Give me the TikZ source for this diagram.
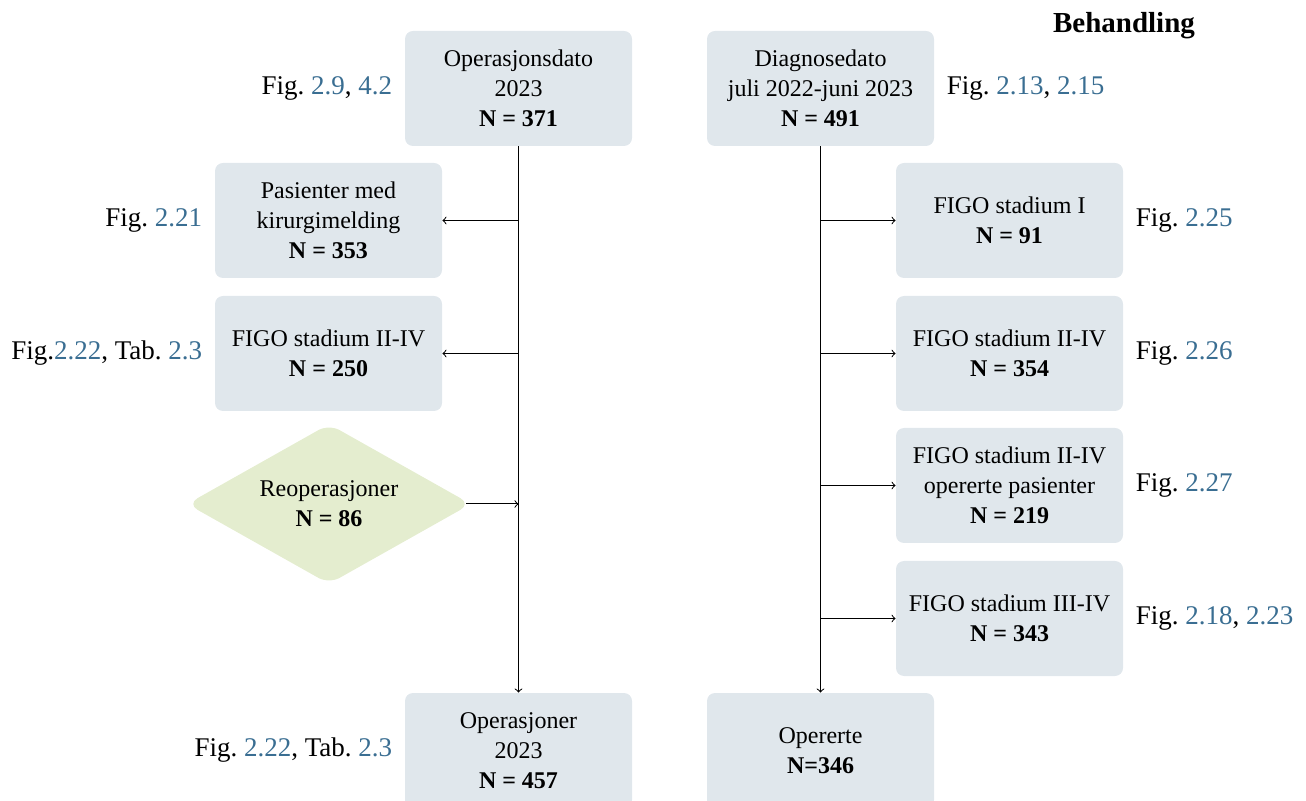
\documentclass[tikz,border=0pt]{standalone}
\usepackage{fontspec}
\setmainfont{Liberation Serif}
\usetikzlibrary{shapes.geometric,positioning}
\definecolor{boxc}{RGB}{224,231,236}
\definecolor{diac}{RGB}{228,237,207}
\definecolor{linkc}{RGB}{58,110,146}
\newcommand{\lnk}[1]{\textcolor{linkc}{#1}}
\frenchspacing
\begin{document}
\begin{tikzpicture}[x=0.5pt,y=-0.5pt,
  boxn/.style={rectangle, rounded corners=4pt, fill=boxc, minimum width=113.5pt, minimum height=57.5pt, inner sep=0pt, align=center, font=\fontsize{12}{15}\selectfont},
  dian/.style={diamond, rounded corners=6pt, fill=diac, minimum width=142pt, minimum height=80pt, inner sep=0pt, aspect=1.8, align=center, font=\fontsize{12}{15}\selectfont},
  figlab/.style={inner sep=0pt, font=\fontsize{13.5}{16}\selectfont},
  conn/.style={line width=0.5pt, ->}]
\useasboundingbox (0,0) rectangle (1306,801);
% left column
\node[boxn] (od) at (518.5,88.5) {Operasjonsdato\\2023\\\textbf{N = 371}};
\node[boxn] (pk) at (328.5,220.5) {Pasienter med\\kirurgimelding\\\textbf{N = 353}};
\node[boxn] (f2l) at (328.5,353.5) {FIGO stadium II-IV\\\textbf{N = 250}};
\node[dian] (re) at (329,504) {Reoperasjoner\\\textbf{N = 86}};
\node[boxn] (op) at (518.5,750.5) {Operasjoner\\2023\\\textbf{N = 457}};
% right column
\node[boxn] (dd) at (820.5,88.5) {Diagnosedato\\juli 2022-juni 2023\\\textbf{N = 491}};
\node[boxn] (f1) at (1009.5,220.5) {FIGO stadium I\\\textbf{N = 91}};
\node[boxn] (f2r) at (1009.5,353.5) {FIGO stadium II-IV\\\textbf{N = 354}};
\node[boxn] (f2o) at (1009.5,485.5) {FIGO stadium II-IV\\opererte pasienter\\\textbf{N = 219}};
\node[boxn] (f3) at (1009.5,618.5) {FIGO stadium III-IV\\\textbf{N = 343}};
\node[boxn] (opr) at (820.5,750.5) {Opererte\\\textbf{N=346}};
% title
\node[figlab, font=\fontsize{14.5}{16}\selectfont\bfseries] (title) at (1124,26) {Behandling};
% figure labels
\node[figlab, left=6pt of od] (lod) {Fig. \lnk{2.9}, \lnk{4.2}};
\node[figlab, right=6pt of dd] (ldd) {Fig. \lnk{2.13}, \lnk{2.15}};
\node[figlab, left=6pt of pk] (lpk) {Fig. \lnk{2.21}};
\node[figlab, left=6pt of f2l] (lf2l) {Fig.\lnk{2.22}, Tab. \lnk{2.3}};
\node[figlab, left=6pt of op] (lop) {Fig. \lnk{2.22}, Tab. \lnk{2.3}};
\node[figlab, right=6pt of f1] (lf1) {Fig. \lnk{2.25}};
\node[figlab, right=6pt of f2r] (lf2r) {Fig. \lnk{2.26}};
\node[figlab, right=6pt of f2o] (lf2o) {Fig. \lnk{2.27}};
\node[figlab, right=6pt of f3] (lf3) {Fig. \lnk{2.18}, \lnk{2.23}};
% connectors left
\draw[conn] (od.south) -- (op.north);
\draw[conn] (od.south |- pk.east) -- (pk.east);
\draw[conn] (od.south |- f2l.east) -- (f2l.east);
\draw[conn, shorten <=-2.5pt] (re.east) -- (re.east -| od.south);
% connectors right
\draw[conn] (dd.south) -- (opr.north);
\draw[conn] (dd.south |- f1.west) -- (f1.west);
\draw[conn] (dd.south |- f2r.west) -- (f2r.west);
\draw[conn] (dd.south |- f2o.west) -- (f2o.west);
\draw[conn] (dd.south |- f3.west) -- (f3.west);
\end{tikzpicture}
\end{document}
